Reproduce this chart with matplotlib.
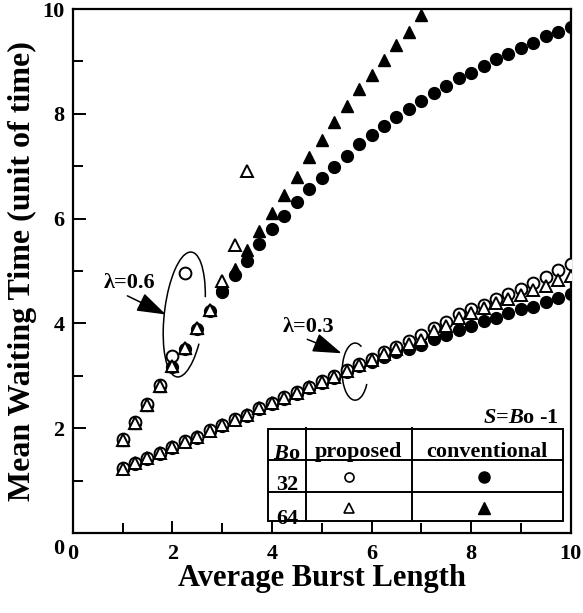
import matplotlib
matplotlib.use('Agg')
import matplotlib.pyplot as plt
import matplotlib.transforms as mtransforms
from matplotlib.patches import Arc, Rectangle
import numpy as np

plt.rcParams['font.family'] = 'Liberation Serif'
plt.rcParams['font.weight'] = 'bold'
plt.rcParams['axes.labelweight'] = 'bold'
plt.rcParams['mathtext.fontset'] = 'custom'
plt.rcParams['mathtext.rm'] = 'Liberation Serif:bold'
plt.rcParams['mathtext.it'] = 'Liberation Serif:italic:bold'
plt.rcParams['mathtext.bf'] = 'Liberation Serif:bold'

# burst length axis, step 0.25
x_all = np.arange(1.0, 10.01, 0.25)

# lambda = 0.6
prop32_06 = [1.79, 2.11, 2.46, 2.83, 3.38, 4.97]
prop64_06 = [1.77, 2.09, 2.44, 2.81, 3.19, 3.54, 3.91, 4.26, 4.80, 5.50, 6.91]
conv32_06 = [1.77, 2.09, 2.44, 2.81, 3.17, 3.52, 3.89, 4.24, 4.59, 4.92, 5.20, 5.52,
             5.81, 6.05, 6.32, 6.56, 6.77, 6.99, 7.19, 7.42, 7.60, 7.77, 7.93, 8.09,
             8.25, 8.40, 8.53, 8.68, 8.78, 8.91, 9.04, 9.14, 9.25, 9.36, 9.49, 9.57, 9.65]
conv64_06 = [1.77, 2.09, 2.44, 2.81, 3.19, 3.54, 3.91, 4.26, 4.76, 5.03, 5.41, 5.76,
             6.11, 6.45, 6.80, 7.17, 7.50, 7.85, 8.15, 8.47, 8.74, 9.03, 9.31, 9.57, 9.89]

# lambda = 0.3
prop32_03 = [1.24, 1.34, 1.44, 1.53, 1.65, 1.75, 1.84, 1.96, 2.07, 2.17, 2.26, 2.39,
             2.49, 2.59, 2.69, 2.79, 2.90, 3.00, 3.12, 3.23, 3.33, 3.45, 3.55, 3.66,
             3.78, 3.91, 4.03, 4.18, 4.28, 4.36, 4.46, 4.56, 4.65, 4.77, 4.88, 5.02, 5.13]
prop64_03 = [1.23, 1.33, 1.43, 1.52, 1.64, 1.74, 1.83, 1.95, 2.06, 2.16, 2.25, 2.38,
             2.48, 2.58, 2.68, 2.78, 2.89, 2.98, 3.10, 3.21, 3.31, 3.42, 3.51, 3.60,
             3.68, 3.85, 3.95, 4.10, 4.19, 4.30, 4.38, 4.46, 4.54, 4.64, 4.71, 4.83, 4.90]
conv32_03 = [1.22, 1.32, 1.42, 1.51, 1.63, 1.73, 1.82, 1.94, 2.05, 2.15, 2.24, 2.37,
             2.46, 2.56, 2.66, 2.76, 2.86, 2.95, 3.07, 3.19, 3.27, 3.36, 3.45, 3.52,
             3.59, 3.70, 3.77, 3.87, 3.95, 4.05, 4.10, 4.20, 4.27, 4.32, 4.41, 4.48, 4.56]

tick_vals = [0, 2, 4, 6, 8, 10]
tick_labels = ['0', '2', '4', '6', '8', '10']

fig = plt.figure(figsize=(5.83, 6.13), dpi=100)
ax = fig.add_axes([0.1247, 0.1305, 0.8543, 0.8548])

filled = dict(linestyle='none', color='black', mec='black')
hollow = dict(linestyle='none', mfc='white', mec='black', mew=1.4)

ax.plot(x_all[:len(conv32_06)], conv32_06, 'o', ms=8.5, **filled, zorder=3)
ax.plot(x_all[:len(conv64_06)], conv64_06, '^', ms=8.5, **filled, zorder=3)
ax.plot(x_all[:len(conv32_03)], conv32_03, 'o', ms=8.5, **filled, zorder=3)
ax.plot(x_all[:len(prop32_06)], prop32_06, 'o', ms=8.5, **hollow, zorder=4)
ax.plot(x_all[:len(prop32_03)], prop32_03, 'o', ms=8.5, **hollow, zorder=4)
ax.plot(x_all[:len(prop64_06)], prop64_06, '^', ms=8, **hollow, zorder=5)
ax.plot(x_all[:len(prop64_03)], prop64_03, '^', ms=8, **hollow, zorder=5)

# group ellipses and labels
ax.add_patch(Arc((2.24, 4.17), 0.80, 2.40, angle=-7, theta1=45, theta2=305,
                 lw=1.1, color='black'))
ax.add_patch(Arc((5.67, 3.08), 0.52, 1.09, theta1=75, theta2=315, lw=1.1, color='black'))
arrow = dict(arrowstyle='-|>,head_length=0.9,head_width=0.3', color='black', lw=1.1,
             mutation_scale=20, shrinkA=0, shrinkB=0, relpos=(0.35, 0.0))
ax.annotate('λ=0.6', xy=(1.87, 4.17), xytext=(0.62, 4.77), fontsize=16,
            va='center', ha='left', arrowprops=arrow)
ax.annotate('λ=0.3', xy=(5.40, 3.43), xytext=(4.21, 3.94), fontsize=16,
            va='center', ha='left', arrowprops=arrow)

# legend table
T = ax.transAxes
ax.add_patch(Rectangle((0.393, 0.022), 0.591, 0.176, fill=False, lw=1.4,
                       transform=T, zorder=6))
for yy in [0.139, 0.079]:
    ax.plot([0.393, 0.984], [yy, yy], color='black', lw=1.4, transform=T, zorder=6)
for xx in [0.468, 0.681]:
    ax.plot([xx, xx], [0.022, 0.200], color='black', lw=1.4, transform=T, zorder=6)
ax.text(0.976, 0.209, r'$S$=$B$o -1', transform=T, ha='right', va='baseline', fontsize=16)
ax.text(0.430, 0.142, r'$B$o', transform=T, ha='center', va='baseline', fontsize=16)
ax.text(0.574, 0.146, 'proposed', transform=T, ha='center', va='baseline', fontsize=16)
ax.text(0.832, 0.146, 'conventional', transform=T, ha='center', va='baseline', fontsize=16)
ax.text(0.430, 0.082, '32', transform=T, ha='center', va='baseline', fontsize=16)
ax.text(0.430, 0.018, '64', transform=T, ha='center', va='baseline', fontsize=16)
ax.plot([0.555], [0.107], 'o', ms=6.5, transform=T, mfc='white', mec='black', mew=1.2)
ax.plot([0.826], [0.107], 'o', ms=8, transform=T, color='black')
ax.plot([0.555], [0.047], '^', ms=6.5, transform=T, mfc='white', mec='black', mew=1.2)
ax.plot([0.826], [0.047], '^', ms=8, transform=T, color='black')

ax.set_xlim(0, 10)
ax.set_ylim(0, 10)
ax.set_xticks(tick_vals)
ax.set_xticklabels(tick_labels, fontweight='bold', fontsize=16)
ax.set_yticks(tick_vals)
ax.set_yticklabels(tick_labels, fontweight='bold', fontsize=16)
ax.set_xticks([1, 3, 5, 7, 9], minor=True)
ax.set_yticks([1, 3, 5, 7, 9], minor=True)
ax.tick_params(which='both', direction='in', top=False, right=False, width=1.4)
ax.tick_params(which='major', length=9)
ax.tick_params(which='minor', length=7)
ax.tick_params(axis='y', pad=6)
ax.tick_params(axis='x', pad=8)
for sp in ax.spines.values():
    sp.set_linewidth(1.6)

ax.set_xlabel('Average Burst Length', fontsize=22, labelpad=0)
ax.set_ylabel('Mean Waiting Time (unit of time)', fontsize=23, labelpad=4)

# the 0 on the y axis sits a little lower in the original
lbl = ax.get_yticklabels()[0]
lbl.set_transform(lbl.get_transform() + mtransforms.ScaledTranslation(0, -10 / 72, fig.dpi_scale_trans))

fig.savefig('out.png', dpi=100)
